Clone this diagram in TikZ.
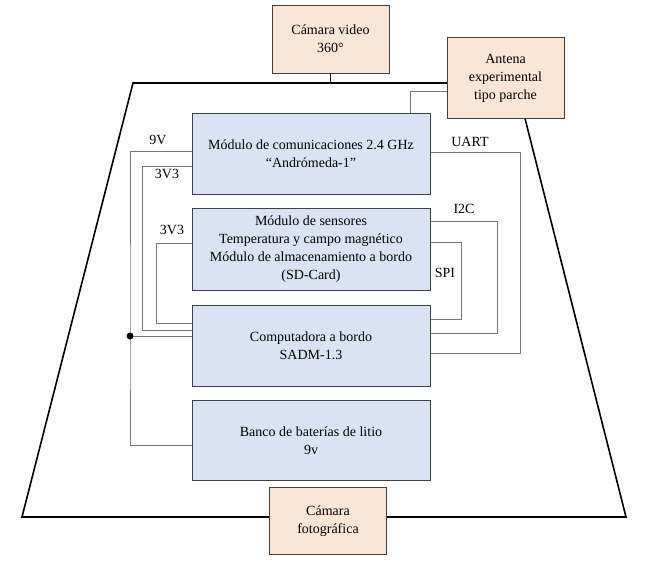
\documentclass[tikz,border=0pt]{standalone}
\usepackage{fontspec}
\setmainfont{Liberation Serif}
\usetikzlibrary{positioning}
\definecolor{boxblue}{RGB}{218,227,243}
\definecolor{boxpeach}{RGB}{251,229,214}
\definecolor{boxedge}{RGB}{64,64,64}
\definecolor{wiregray}{RGB}{120,120,120}

\begin{document}
\begin{tikzpicture}[
  x=1pt, y=-1pt,
  node distance=13.5pt,
  module/.style={rectangle, draw=boxedge, line width=1pt, fill=boxblue, minimum width=238pt, minimum height=81pt, align=center, inner sep=0pt, font=\fontsize{14}{18}\selectfont},
  extbox/.style={rectangle, draw=boxedge, line width=1pt, fill=boxpeach, minimum width=117pt, align=center, inner sep=0pt, font=\fontsize{14}{18}\selectfont},
  wire/.style={wiregray, line width=1pt},
  frame/.style={black, line width=1.6pt},
  lbl/.style={font=\fontsize{14}{18}\selectfont, inner sep=0pt}
]
\useasboundingbox (0,0) rectangle (653,563);

% Structure outline
\coordinate (tl) at (133,83);
\coordinate (tr) at (516,83);
\coordinate (br) at (626,517);
\coordinate (bl) at (22,517);
\draw[frame, line join=miter] (tl) -- (tr) -- (br) -- (bl) -- cycle;

% Modules
\node[module] (com) at (311,153.5) {Módulo de comunicaciones 2.4 GHz\\“Andrómeda-1”};
\node[module, below=of com, minimum height=82pt] (sens) {Módulo de sensores\\Temperatura y campo magnético\\Módulo de almacenamiento a bordo\\(SD-Card)};
\node[module, below=of sens] (cpu) {Computadora a bordo\\SADM-1.3};
\node[module, below=of cpu, minimum height=80pt] (bat) {Banco de baterías de litio\\9v};

% External parts
\node[extbox, minimum height=68pt] (cam) at (330.5,39) {Cámara video\\360°};
\node[extbox, minimum height=81pt] (ant) at (505.5,78) {Antena\\experimental\\tipo parche};
\node[extbox, minimum height=67pt] (foto) at (328,521) {Cámara\\fotográfica};

\draw[frame] (cam.south) -- (cam.south |- tl);

% Wiring
\coordinate (jn) at (130,336);
\draw[wire] ([yshift=-13pt]ant.west) -| ([xshift=99pt]com.north);
\draw[wire] ([yshift=2.5pt]com.west) -| (jn) |- ([yshift=-5pt]bat.west);
\draw[wire] (jn) -- (jn -| cpu.west);
\draw[wire] ([yshift=-12.5pt]com.west) -- ++(-49,0) |- ([yshift=15.5pt]cpu.west);
\draw[wire] ([yshift=6.5pt]sens.west) -- ++(-35,0) |- ([yshift=22.5pt]cpu.west);
\draw[wire] ([yshift=28.5pt]sens.east) -- ++(67,0) |- ([yshift=12.5pt]cpu.east);
\draw[wire] ([yshift=7.5pt]sens.east) -- ++(31,0) |- ([yshift=26.5pt]cpu.east);
\draw[wire] ([yshift=1.5pt]com.east) -- ++(90,0) |- ([yshift=-7.5pt]cpu.east);
\fill (jn) circle (3.5pt);

% Signal labels
\node[lbl] (l9v) at (158,140) {9V};
\node[lbl] (l3v3a) at (167,174) {3V3};
\node[lbl] (luart) at (470,142) {UART};
\node[lbl] (l3v3b) at (172,230) {3V3};
\node[lbl] (li2c) at (464,209) {I2C};
\node[lbl] (lspi) at (445,273) {SPI};
\end{tikzpicture}
\end{document}
